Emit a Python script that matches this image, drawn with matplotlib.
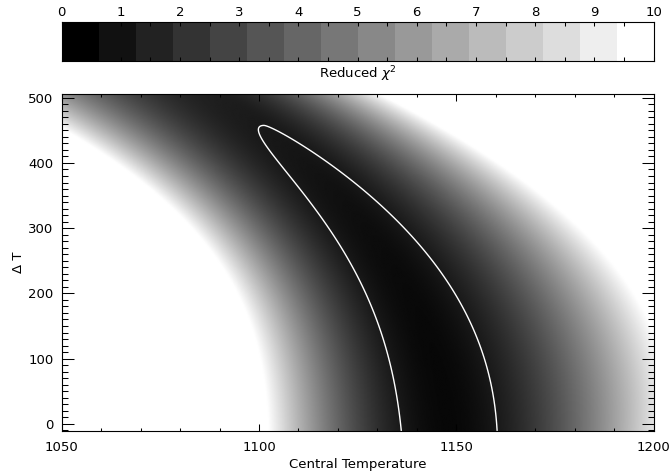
import numpy as np
import matplotlib
matplotlib.use('Agg')
from matplotlib import pyplot as plt
from matplotlib.ticker import MultipleLocator

# valley of the reduced chi^2 surface, sampled at a few Delta T rows
dt_nodes = [0, 100, 200, 300, 400, 500]
valley_t = [1148.5, 1144.5, 1138.5, 1128.0, 1112.0, 1092.0]   # T of minimum chi^2
valley_min = [0.29, 0.30, 0.38, 0.52, 0.80, 1.18]            # minimum chi^2 in the row
width_lo = [14.8, 14.3, 14.5, 14.0, 16.5, 19.0]              # rise scale on the cool side
width_hi = [14.5, 15.2, 14.8, 14.4, 13.0, 11.2]              # rise scale on the hot side
hot_power = 1.7
contour_level = 1.0

cbar_ticks = [0, 1, 2, 3, 4, 5, 6, 7, 8, 9, 10]
n_cbar_steps = 16

t_range = (1050, 1200)
dt_range = (-11, 505)

plt.rcParams['font.family'] = 'DejaVu Sans'
plt.rcParams['font.size'] = 9.5


def row_profile(values, grid, deg=3):
    # smooth cubic trend through the sampled rows
    coef = np.polyfit(dt_nodes, values, deg)
    return np.polyval(coef, grid)


T = np.linspace(t_range[0], t_range[1], 751)
dT = np.linspace(dt_range[0], dt_range[1], 517)

c = row_profile(valley_t, dT)[:, None]
m = row_profile(valley_min, dT)[:, None]
s_lo = row_profile(width_lo, dT)[:, None]
s_hi = row_profile(width_hi, dT)[:, None]

TT = T[None, :]
chi2 = np.where(TT < c,
                m + ((c - TT)/s_lo)**2,
                m + (np.abs(TT - c)/s_hi)**hot_power)

fig = plt.figure(figsize=(6.72, 4.72), dpi=100)
ax = fig.add_axes([0.0918, 0.0869, 0.8807, 0.7129])
cax = fig.add_axes([0.0918, 0.8708, 0.8807, 0.0826])

ax.imshow(chi2, origin='lower', extent=[t_range[0], t_range[1], dt_range[0], dt_range[1]],
          cmap='gray', vmin=0, vmax=10, aspect='auto', interpolation='bilinear')
ax.contour(T, dT, chi2, levels=[contour_level], colors='white', linewidths=1.0)

ax.set_xlim(*t_range)
ax.set_ylim(*dt_range)
ax.xaxis.set_major_locator(MultipleLocator(50))
ax.xaxis.set_minor_locator(MultipleLocator(10))
ax.yaxis.set_major_locator(MultipleLocator(100))
ax.yaxis.set_minor_locator(MultipleLocator(10))
ax.tick_params(which='both', direction='in', top=True, right=True, width=0.75, color='black')
ax.tick_params(axis='x', which='major', length=4.8, pad=7)
ax.tick_params(axis='x', which='minor', length=2.4)
ax.tick_params(axis='y', which='major', length=8.5, pad=6)
ax.tick_params(axis='y', which='minor', length=4.2)
for sp in ax.spines.values():
    sp.set_linewidth(0.8)
ax.set_xlabel('Central Temperature', labelpad=3)
ax.set_ylabel('Δ T', labelpad=2)

# stepped colour bar
edges = np.linspace(0, 10, n_cbar_steps + 1)
centers = 0.5*(edges[:-1] + edges[1:])
cax.pcolormesh(edges, [0, 1], centers[None, :], cmap='gray',
               vmin=centers[0], vmax=centers[-1])
cax.set_xlim(0, 10)
cax.set_ylim(0, 1)
cax.set_xticks(cbar_ticks)
cax.xaxis.set_minor_locator(MultipleLocator(0.5))
cax.set_yticks([])
cax.tick_params(which='both', direction='in', top=True, bottom=True,
                labeltop=True, labelbottom=False, length=3, width=0.75, pad=2.5)
for sp in cax.spines.values():
    sp.set_linewidth(0.8)
fig.text(0.532, 0.842, r'Reduced $\chi^2$', ha='center', va='center')

fig.savefig('out.png', dpi=100)
